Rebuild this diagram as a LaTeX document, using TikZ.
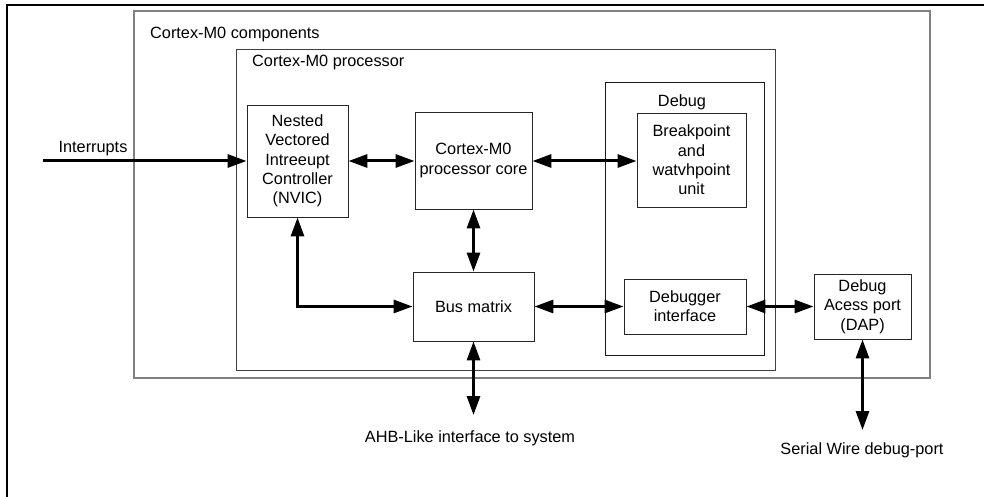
\documentclass[tikz,border=0pt]{standalone}
\usepackage{fontspec}
\setmainfont{Liberation Sans}
\usetikzlibrary{arrows.meta}
\tikzset{
  blk/.style={draw=black!85, line width=0.9pt, fill=none, inner sep=0pt, align=center, font=\fontsize{16.3}{19.3}\selectfont},
  lbl/.style={inner sep=0pt, font=\fontsize{16.3}{19.3}\selectfont},
  conn/.style={line width=3pt, {Triangle[length=19pt,width=13pt]}-{Triangle[length=19pt,width=13pt]}},
  oneway/.style={line width=3pt, -{Triangle[length=19pt,width=13pt]}},
}
\begin{document}
\begin{tikzpicture}[x=1pt,y=-1pt]
\useasboundingbox (0,0) rectangle (984,497);
% outer frame (top and left only visible)
\draw[line width=2.4pt] (984,5) -- (7,5) -- (7,497);
% containers
\draw[draw=black!50, line width=1.8pt] (134,11) rectangle (930,378);
\draw[draw=black!75, line width=0.9pt] (236,49) rectangle (775,370);
\draw[draw=black!90, line width=0.9pt] (605,82) rectangle (764,355);
\node[lbl, anchor=west] (lcomp) at (150,35) {Cortex-M0 components};
\node[lbl, anchor=west] (lproc) at (252,63) {Cortex-M0 processor};
\node[lbl] (ldebug) at (682,102) {Debug};
% blocks
\node[blk, minimum width=101pt, minimum height=112pt] (nvic) at (297.5,161) {Nested\\Vectored\\Intreeupt\\Controller\\(NVIC)};
\node[blk, minimum width=117pt, minimum height=97pt] (core) at (473.5,160.5) {Cortex-M0\\processor core};
\node[blk, minimum width=109pt, minimum height=94pt] (bkpt) at (691.5,160) {Breakpoint\\and\\watvhpoint\\unit};
\node[blk, minimum width=121pt, minimum height=69pt] (bus) at (473.5,306.5) {Bus matrix};
\node[blk, minimum width=122pt, minimum height=55pt] (dbgif) at (685,306.5) {Debugger\\interface};
\node[blk, minimum width=97pt, minimum height=65pt] (dap) at (862.5,306.5) {Debug\\Acess port\\(DAP)};
% external labels
\node[lbl] (lint) at (93,149) {Interrupts};
\node[lbl] (lahb) at (470,438) {AHB-Like interface to system};
\node[lbl] (lswd) at (862,450) {Serial Wire debug-port};
\coordinate (intsrc) at (43,161);
\coordinate (ahbend) at (473.5,415);
\coordinate (swdend) at (862.5,430);
% connectors
\draw[oneway] (intsrc) -- (nvic.west |- intsrc);
\draw[conn] (nvic.east |- 0,161) -- (core.west |- 0,161);
\draw[conn] (core.east |- 0,161) -- (bkpt.west |- 0,161);
\draw[conn] (core.south) -- (bus.north);
\draw[conn] (nvic.south) |- (bus.west);
\draw[conn] (bus.east) -- (dbgif.west);
\draw[conn] (dbgif.east) -- (dap.west);
\draw[conn] (bus.south) -- (ahbend);
\draw[conn] (dap.south) -- (swdend);
\end{tikzpicture}
\end{document}
